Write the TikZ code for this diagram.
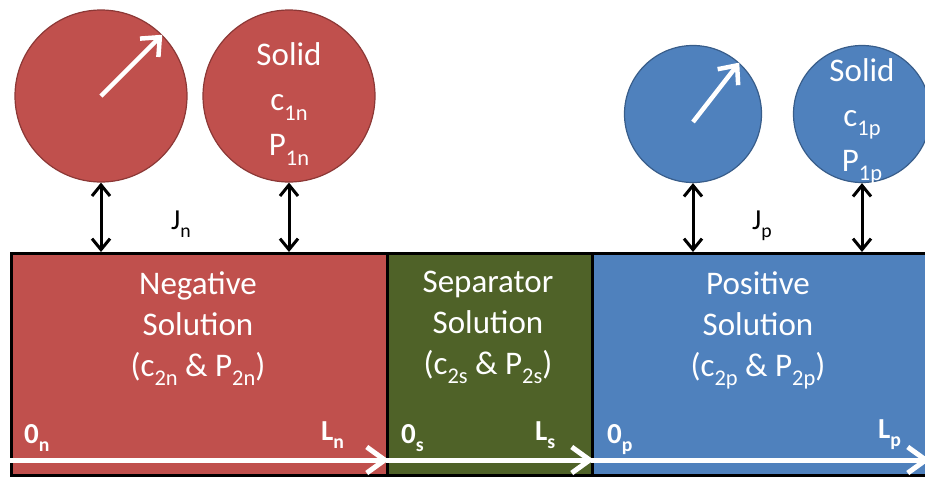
\documentclass[tikz,border=0pt]{standalone}
\usepackage{fontspec}
\setmainfont{Carlito}
\usetikzlibrary{arrows.meta}

\definecolor{negred}{HTML}{C0504D}
\definecolor{negredline}{HTML}{8C3836}
\definecolor{sepgreen}{HTML}{4F6228}
\definecolor{posblue}{HTML}{4F81BD}
\definecolor{posblueline}{HTML}{385D8A}

\newcommand{\lowsub}[1]{\raisebox{-0.28em}{\fontsize{0.68em}{1em}\selectfont #1}}

\tikzset{
  region/.style={draw=black,line width=3pt,minimum height=222pt,anchor=north west,inner sep=0pt},
  particle/.style={circle,line width=1.2pt,inner sep=0pt},
  maintext/.style={text=white,font=\fontsize{33}{41}\selectfont,align=center,inner sep=0pt,anchor=north},
  solidtext/.style={text=white,font=\fontsize{33}{45}\selectfont,align=center,inner sep=0pt},
  edgetext/.style={text=white,font=\fontsize{29}{32}\selectfont\bfseries,inner sep=0pt,anchor=base west},
  fluxtext/.style={font=\fontsize{29}{32}\selectfont,inner sep=0pt,anchor=base west},
  flux/.style={line width=3pt,{Straight Barb[length=11pt,width=18pt]}-{Straight Barb[length=11pt,width=18pt]}},
  radius/.style={white,line width=4.5pt,-{Straight Barb[length=15pt,width=26pt]}},
  axis/.style={white,line width=5pt,-{Straight Barb[length=18pt,width=26pt]}}
}

\begin{document}
\begin{tikzpicture}[x=1pt,y=-1pt]
\useasboundingbox (0,0) rectangle (925,477);

% electrode regions
\node[region,fill=negred,minimum width=376pt] (negbox) at (10,252) {};
\node[region,fill=sepgreen,minimum width=205pt] (sepbox) at (386,252) {};
\node[region,fill=posblue,minimum width=344pt] (posbox) at (591,252) {};

\node[maintext] (negtxt) at (198,271) {Negative\\Solution\\(c\lowsub{2n} \& P\lowsub{2n})};
\node[maintext] (septxt) at (488,271) {Separator\\Solution\\(c\lowsub{2s} \& P\lowsub{2s})};
\node[maintext] (postxt) at (758,271) {Positive\\Solution\\(c\lowsub{2p} \& P\lowsub{2p})};

% particles
\node[particle,fill=negred,draw=negredline,minimum size=172pt] (negpart) at (101,96) {};
\node[particle,fill=negred,draw=negredline,minimum size=172pt] (negsolid) at (289,96) {};
\node[particle,fill=posblue,draw=posblueline,minimum size=137pt] (pospart) at (693,114) {};
\node[particle,fill=posblue,draw=posblueline,minimum size=137pt] (possolid) at (862,114) {};

\node[solidtext] (negsolidtxt) at (289,104) {Solid\\c\lowsub{1n}\\P\lowsub{1n}};
\node[solidtext] (possolidtxt) at (862,121) {Solid\\c\lowsub{1p}\\P\lowsub{1p}};

\draw[radius] (negpart.center) -- (negpart.45);
\draw[radius] ([yshift=-8pt]pospart.center) -- (pospart.48);

% fluxes
\draw[flux] (negpart.south) -- (negpart.south |- negbox.north);
\draw[flux] (negsolid.south) -- (negsolid.south |- negbox.north);
\draw[flux] (pospart.south) -- (pospart.south |- posbox.north);
\draw[flux] (possolid.south) -- (possolid.south |- posbox.north);
\node[fluxtext] (jn) at (171,229) {J\lowsub{n}};
\node[fluxtext] (jp) at (752,229) {J\lowsub{p}};

% coordinate axes
\draw[axis] ([yshift=17pt]negbox.south west) -- ([yshift=17pt]negbox.south east);
\draw[axis] ([yshift=17pt]sepbox.south west) -- ([yshift=17pt]sepbox.south east);
\draw[axis] ([yshift=17pt]posbox.south west) -- ([yshift=17pt,xshift=-8pt]posbox.south east);
\node[edgetext] (on) at (24,443) {0\lowsub{n}};
\node[edgetext] (ln) at (321,440) {L\lowsub{n}};
\node[edgetext] (os) at (401,443) {0\lowsub{s}};
\node[edgetext] (ls) at (535,440) {L\lowsub{s}};
\node[edgetext] (op) at (607,443) {0\lowsub{p}};
\node[edgetext] (lp) at (878,438) {L\lowsub{p}};
\end{tikzpicture}
\end{document}
